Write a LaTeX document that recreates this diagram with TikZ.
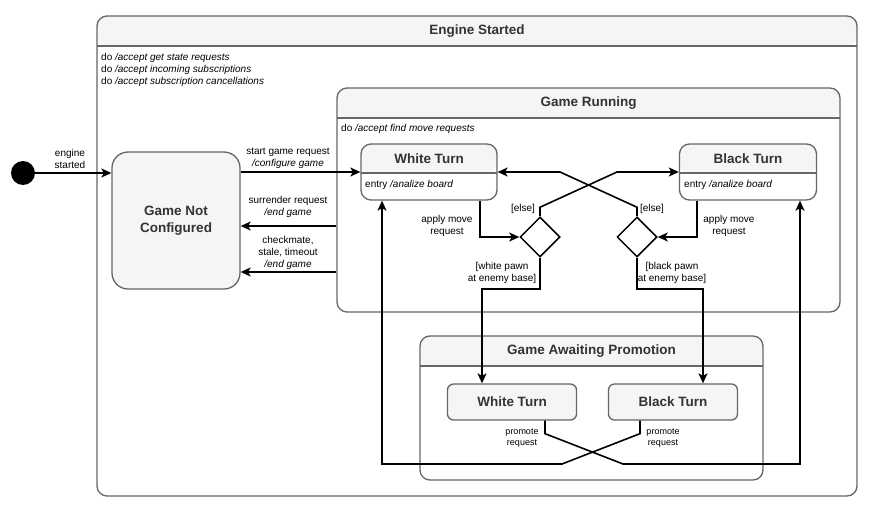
\documentclass[tikz,border=0pt]{standalone}
\usepackage{fontspec}
\setmainfont{Liberation Sans}
\usetikzlibrary{arrows.meta,shapes.geometric,calc}
\definecolor{hdrgray}{HTML}{F5F5F5}
\definecolor{strokegray}{HTML}{666666}
\definecolor{textgray}{HTML}{333333}
\tikzset{
  lane/.style={draw=strokegray, fill=white, line width=1.3pt, inner sep=0pt,
    rounded corners=10pt,
    path picture={
      \fill[hdrgray] (path picture bounding box.north west)
        rectangle ([yshift=-#1]path picture bounding box.north east);
      \draw[strokegray, line width=2.6pt]
        ([yshift=-#1]path picture bounding box.north west)
        -- ([yshift=-#1]path picture bounding box.north east);
    }},
  simplestate/.style={draw=strokegray, fill=hdrgray, line width=1.3pt,
    rounded corners=#1, inner sep=0pt, text=textgray,
    font=\fontsize{13.5}{17}\selectfont\bfseries, align=center},
  title/.style={text=textgray, font=\fontsize{13.5}{16}\selectfont\bfseries},
  body/.style={font=\fontsize{10}{12}\selectfont, align=left, inner sep=0pt},
  lbl/.style={font=\fontsize{10}{12}\selectfont, align=center, inner sep=0pt},
  smalllbl/.style={font=\fontsize{9}{11}\selectfont, align=center, inner sep=0pt},
  choice/.style={diamond, draw=black, fill=white, line width=1.5pt,
    minimum width=40pt, minimum height=40pt, inner sep=0pt, aspect=1},
  arr/.style={-{Stealth[length=10pt,width=9pt,inset=2.5pt]}, line width=1.6pt},
}
\begin{document}
\begin{tikzpicture}[x=1pt,y=-1pt]
\useasboundingbox (0,0) rectangle (873,513);

%%%%%%%%%%%%%%
% Engine Started
%%%%%%%%%%%%%%
  \node[lane=30pt, minimum width=760pt, minimum height=480pt] (es) at (477,256) {};
  \node[title] (esT) at (477,31) {Engine Started};
  \node[body, anchor=north west] (esB) at (101,53)
       {do \textit{/accept get state requests}\\
        do \textit{/accept incoming subscriptions}\\
        do \textit{/accept subscription cancellations}};

% initial state
  \node[circle, fill=black, minimum size=24pt, inner sep=0pt] (init) at (23,173) {};

% Game Not Configured
  \node[simplestate=16pt, minimum width=128pt, minimum height=137pt] (gnc)
       at (176,220.5) {Game Not\\Configured};

%%%%%%%%%%%%%%
% Game Running
%%%%%%%%%%%%%%
  \node[lane=30pt, minimum width=503pt, minimum height=224pt] (gr) at (588.5,200) {};
  \node[title] (grT) at (588.5,103) {Game Running};
  \node[body, anchor=west] (grB) at (341,129) {do \textit{/accept find move requests}};

% turns
  \node[lane=29pt, minimum width=136pt, minimum height=56pt] (wt) at (429,172) {};
  \node[title] (wtT) at (429,158.5) {White Turn};
  \node[body, anchor=west] (wtB) at (365,185) {entry \textit{/analize board}};

  \node[lane=29pt, minimum width=137pt, minimum height=56pt] (bt) at (748,172) {};
  \node[title] (btT) at (748,158.5) {Black Turn};
  \node[body, anchor=west] (btB) at (684,185) {entry \textit{/analize board}};

% choices
  \node[choice] (dl) at (540,237) {};
  \node[choice] (dr) at (637,237) {};

%%%%%%%%%%%%%%
% Game Awaiting Promotion
%%%%%%%%%%%%%%
  \node[lane=30pt, minimum width=343pt, minimum height=144pt] (gap) at (591.5,408) {};
  \node[title] (gapT) at (591.5,351) {Game Awaiting Promotion};

  \node[simplestate=6pt, minimum width=129pt, minimum height=36pt] (pw) at (512,402) {White Turn};
  \node[simplestate=6pt, minimum width=129pt, minimum height=36pt] (pb) at (673,402) {Black Turn};

%%%%%%%%%%%%%%
% Transitions
%%%%%%%%%%%%%%
  \draw[arr] (init) -- (init -| gnc.west);
  \node[lbl] (l1) at (70,158.5) {engine\\started};

  \draw[arr] (gnc.east |- wt.west) -- (wt.west);
  \node[lbl] (l2) at (288,158) {start game request\\\textit{/configure game}};

  \draw[arr] (gr.west |- 0,226) -- (gnc.east |- 0,226);
  \node[lbl] (l3) at (288,207) {surrender request\\\textit{/end game}};

  \draw[arr] (gr.west |- 0,272) -- (gnc.east |- 0,272);
  \node[lbl] (l4) at (288,253) {checkmate,\\stale, timeout\\\textit{/end game}};

% apply move
  \draw[arr] ([xshift=51pt]wt.south) |- (dl.west);
  \node[lbl] (l5) at (447,226) {apply move\\request};
  \draw[arr] ([xshift=-51pt]bt.south) |- (dr.east);
  \node[lbl] (l6) at (729,226) {apply move\\request};

% else branches
  \draw[arr] (dl.north) -- ++(0,-9) -- (617,172) -- (bt.west);
  \node[lbl] (l7) at (523,209) {[else]};
  \draw[arr] (dr.north) -- ++(0,-9) -- (560,172) -- (wt.east);
  \node[lbl] (l8) at (652,209) {[else]};

% pawn at enemy base
  \draw[arr] (dl.south) -- ++(0,31) -| ([xshift=-30pt]pw.north);
  \node[lbl] (l9) at (502,273) {[white pawn\\at enemy base]};
  \draw[arr] (dr.south) -- ++(0,31) -| ([xshift=30pt]pb.north);
  \node[lbl] (l10) at (672,273) {[black pawn\\at enemy base]};

% promote
  \draw[arr] ([xshift=33pt]pw.south) -- ++(0,13) -- (623,464) -| ([xshift=52pt]bt.south);
  \node[smalllbl] (l11) at (522,438) {promote\\request};
  \draw[arr] ([xshift=-33pt]pb.south) -- ++(0,13) -- (562,464) -| ([xshift=-47pt]wt.south);
  \node[smalllbl] (l12) at (663,438) {promote\\request};

\end{tikzpicture}
\end{document}
